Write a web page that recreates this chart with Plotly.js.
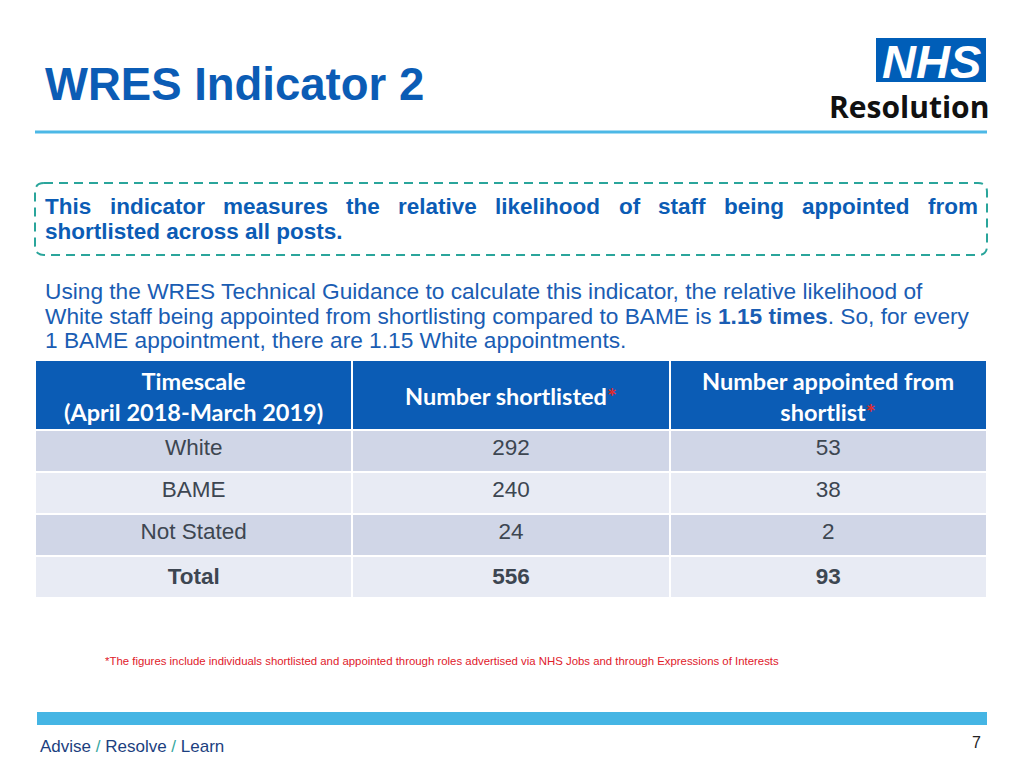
<!DOCTYPE html>
<html>
<head>
<meta charset="utf-8">
<script src="https://cdn.plot.ly/plotly-3.0.1.min.js"></script>
<style>html,body{margin:0;padding:0;background:#fff;}#chart{width:1024px;height:768px;}</style>
</head>
<body>
<div id="chart"></div>
<script>
// ---- data ----
const categories = ["White", "BAME", "Not Stated", "Total"];
const shortlisted = [292, 240, 24, 556];
const appointed = [53, 38, 2, 93];
const columnHeaders = ["Timescale<br>(April 2018-March 2019)", "Number shortlisted", "Number appointed from<br>shortlist"];
const headerStarred = [false, true, true];
const titleText = "WRES Indicator 2";
const boxLine1 = "This indicator measures the relative likelihood of staff being appointed from";
const boxLine2 = "shortlisted across all posts.";
const paraLines = [
  "Using the WRES Technical Guidance to calculate this indicator, the relative likelihood of",
  "White staff being appointed from shortlisting compared to BAME is <b>1.15 times</b>. So, for every",
  "1 BAME appointment, there are 1.15 White appointments."
];
const footnote = "*The figures include individuals shortlisted and appointed through roles advertised via NHS Jobs and through Expressions of Interests";
const footerWords = ["Advise", "Resolve", "Learn"];
const pageNumber = "7";

// ---- helpers (pixel -> paper) ----
const W = 1024, H = 768;
const px = x => x / W;
const py = y => 1 - y / H;

const BLUE = "#0b5cb5";
const TXTBLUE = "#1a5db3";

const annotations = [];
function ann(text, x, y, opts) {
  annotations.push(Object.assign({
    text: text, x: px(x), y: py(y), xref: "paper", yref: "paper",
    showarrow: false, xanchor: "left", yanchor: "middle", borderpad: 0,
    font: {family: "Liberation Sans, Arial", size: 22, color: TXTBLUE}
  }, opts || {}));
}

// title
ann("<b>" + titleText + "</b>", 44, 84, {font: {family: "Liberation Sans, Arial", size: 45.5, color: BLUE}});

// NHS logo
ann("<b><i>NHS</i></b>", 931, 61, {xanchor: "center", font: {family: "Liberation Sans, Arial", size: 47, color: "#ffffff"}});
ann("<b>Resolution</b>", 909, 107, {xanchor: "center", font: {family: "Open Sans", size: 30, color: "#111111"}});

// justified first line of box text
(function () {
  const c = document.createElement("canvas").getContext("2d");
  c.font = "bold 22.5px 'Liberation Sans', Arial";
  const words = boxLine1.split(" ");
  const widths = words.map(w => c.measureText(w).width);
  const total = widths.reduce((a, b) => a + b, 0);
  const left = 44, right = 977;
  const gap = (right - left - total) / (words.length - 1);
  let x = left;
  words.forEach((w, i) => {
    ann("<b>" + w + "</b>", x, 206, {font: {family: "Liberation Sans, Arial", size: 22.5, color: BLUE}});
    x += widths[i] + gap;
  });
})();
ann("<b>" + boxLine2 + "</b>", 44, 231, {font: {family: "Liberation Sans, Arial", size: 22.5, color: BLUE}});

// paragraph
paraLines.forEach((t, i) => ann(t, 44, 291 + i * 24.5, {font: {family: "Liberation Sans, Arial", size: 22.7, color: TXTBLUE}}));

// table header text
const colLeft = 35, colRight = 987, nCols = 3;
const colW = (colRight - colLeft) / nCols;
columnHeaders.forEach((h, i) => {
  const t = h + (headerStarred[i] ? "<span style='color:#e02b2b'>*</span>" : "");
  annotations.push({
    text: "<b>" + t + "</b>", x: px(colLeft + colW * (i + 0.5)), y: py(396), xref: "paper", yref: "paper",
    showarrow: false, xanchor: "center", yanchor: "middle", align: "center", borderpad: 0,
    font: {family: "Lato", size: 23.5, color: "#ffffff"}
  });
});

// footnote
ann(footnote, 104, 661, {font: {family: "Liberation Sans, Arial", size: 11.4, color: "#e0202a"}});

// footer
const sep = "<span style='color:#35a7a0'> / </span>";
ann("<span style='color:#1c3f80'>" + footerWords.join("</span>" + sep + "<span style='color:#1c3f80'>") + "</span>", 39, 746,
    {font: {family: "Liberation Sans, Arial", size: 17, color: "#1c3f80"}});
ann(pageNumber, 976, 742, {xanchor: "center", font: {family: "Liberation Sans, Arial", size: 16, color: "#222222"}});

// ---- shapes ----
function roundedRectPath(x0, y0, x1, y1, r) {
  const P = (x, y) => px(x) + "," + py(y);
  return "M" + P(x0 + r, y0) + " L" + P(x1 - r, y0) + " Q" + P(x1, y0) + " " + P(x1, y0 + r) +
    " L" + P(x1, y1 - r) + " Q" + P(x1, y1) + " " + P(x1 - r, y1) +
    " L" + P(x0 + r, y1) + " Q" + P(x0, y1) + " " + P(x0, y1 - r) +
    " L" + P(x0, y0 + r) + " Q" + P(x0, y0) + " " + P(x0 + r, y0) + " Z";
}
const shapes = [
  {type: "line", xref: "paper", yref: "paper", x0: px(35), x1: px(987), y0: py(132), y1: py(132),
   line: {color: "#4cb8e6", width: 3}},
  {type: "path", xref: "paper", yref: "paper", path: roundedRectPath(35, 183, 987, 255, 9),
   line: {color: "#2aa59b", width: 2, dash: "9px,6px"}},
  {type: "rect", xref: "paper", yref: "paper", x0: px(876), x1: px(986), y0: py(38), y1: py(82),
   fillcolor: "#005eb8", line: {width: 0}},
  {type: "rect", xref: "paper", yref: "paper", x0: px(37), x1: px(987), y0: py(712), y1: py(725),
   fillcolor: "#45b5e4", line: {width: 0}}
];

// ---- table ----
const rowColors = categories.map((_, i) => i % 2 === 0 ? "#d0d6e7" : "#e8ebf4");
const bold = (v, i) => i === categories.length - 1 ? "<b>" + v + "</b>" : String(v);
const tableTrace = {
  type: "table",
  domain: {x: [px(35), px(987)], y: [py(600), py(360)]},
  columnwidth: [1, 1, 1],
  header: {
    values: ["", "", ""],
    height: 70,
    fill: {color: BLUE},
    line: {color: "#ffffff", width: 2},
    font: {family: "Lato", size: 21, color: "#ffffff"}
  },
  cells: {
    values: [categories.map(bold), shortlisted.map(bold), appointed.map(bold)],
    height: 42,
    align: "center",
    fill: {color: [rowColors, rowColors, rowColors]},
    line: {color: "#ffffff", width: 2},
    font: {family: "Liberation Sans, Arial", size: 22.5, color: "#3d4651"}
  }
};

Plotly.newPlot("chart", [tableTrace], {
  width: W, height: H,
  margin: {l: 0, r: 0, t: 0, b: 0},
  paper_bgcolor: "#ffffff",
  showlegend: false,
  shapes: shapes,
  annotations: annotations
}, {staticPlot: true, displayModeBar: false});
</script>
</body>
</html>
